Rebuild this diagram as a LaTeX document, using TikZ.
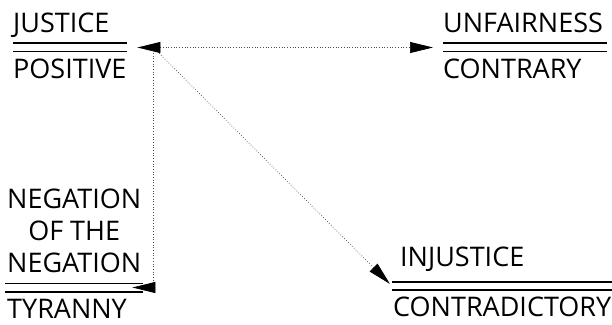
\documentclass[tikz,border=0pt]{standalone}
\usepackage{fontspec}
\setmainfont{Open Sans}
\usetikzlibrary{positioning,arrows.meta}

\newcommand\termbar[1]{\vbox{\hrule width #1 height 1.8pt\vskip 6.4pt\hrule width #1 height 1.8pt}}

\begin{document}
\begin{tikzpicture}[
  x=1pt, y=1pt,
  term/.style={font=\fontsize{27}{32}\selectfont, inner sep=0pt, text depth=0pt},
  barnode/.style={inner sep=0pt},
  link/.style={dotted, line width=0.7pt, black!70},
  tip/.style={-{Triangle[length=23pt,width=11pt,color=black]}}]
\useasboundingbox (0,0) rectangle (612,324);

% the four bars
\node[barnode, anchor=west] (jbar) at (13,276.5) {\termbar{114pt}};
\node[barnode, anchor=west] (ubar) at (443,276.5) {\termbar{164pt}};
\node[barnode, anchor=west] (nbar) at (5,36.5) {\termbar{138pt}};
\node[barnode, anchor=west] (ibar) at (392,38) {\termbar{220pt}};

% words above and below
\node[term, above right=10pt and 0pt of jbar.north west] (just) {JUSTICE};
\node[term, below right=6.5pt and 0pt of jbar.south west] (pos) {POSITIVE};
\node[term, above right=10pt and 0pt of ubar.north west] (unf) {UNFAIRNESS};
\node[term, below right=6.5pt and 0pt of ubar.south west] (contr) {CONTRARY};
\node[term, align=center, above=10pt of nbar.north] (neg) {NEGATION\\OF THE\\NEGATION};
\node[term, below right=6pt and 2pt of nbar.south west] (tyr) {TYRANNY};
\node[term, above right=14pt and 8pt of ibar.north west] (inj) {INJUSTICE};
\node[term, below right=6pt and 1pt of ibar.south west] (contd) {CONTRADICTORY};

\coordinate (hub) at ([xshift=26pt]jbar.east);

\draw[link, tip, shorten >=-11pt] (hub) |- (nbar.east);
\draw[link, tip, shorten >=3pt] (hub) -- (ibar.west);
\draw[link, {Triangle[length=23pt,width=11pt,color=black]}-{Triangle[length=23pt,width=11pt,color=black]},
  shorten <=10pt, shorten >=10pt] (jbar.east) -- (ubar.west);
\end{tikzpicture}
\end{document}
